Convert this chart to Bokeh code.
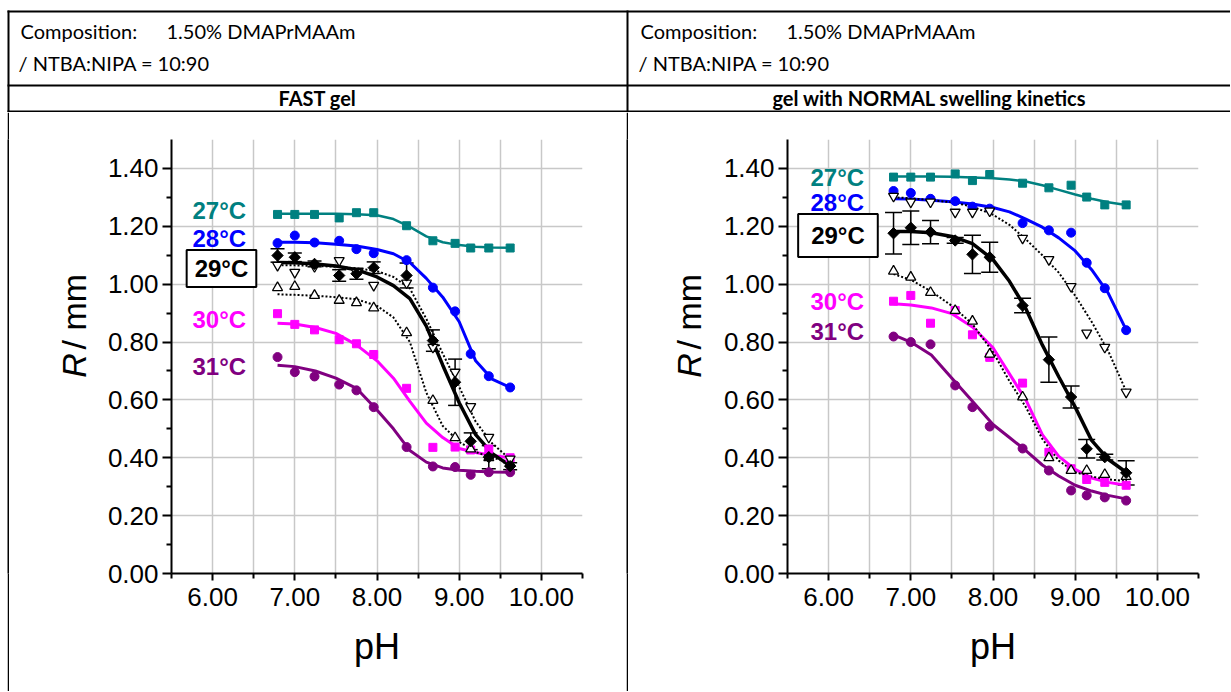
import math
from bokeh.plotting import figure
from bokeh.layouts import column, row
from bokeh.models import (Range1d, FixedTicker, NumeralTickFormatter, Label,
                          Whisker, TeeHead, ColumnDataSource)
from bokeh.core.properties import value
from bokeh.embed import file_html
from bokeh.resources import INLINE

# ---------------- data ----------------
ph = [6.79, 7.00, 7.24, 7.54, 7.75, 7.96, 8.36, 8.68, 8.95, 9.14, 9.36, 9.62]
fit_ph = [6.79, 7.0, 7.25, 7.5, 7.75, 8.0, 8.2, 8.4, 8.6, 8.8, 9.0, 9.2, 9.4, 9.62]

# FAST gel
fast_27 = [1.241, 1.241, 1.241, 1.229, 1.247, 1.247, 1.202, 1.150, 1.141, 1.125, 1.125, 1.125]
fast_28 = [1.142, 1.168, 1.144, 1.150, 1.121, 1.107, 1.083, 0.988, 0.906, 0.759, 0.682, 0.643]
fast_29 = [1.099, 1.093, 1.070, 1.030, 1.036, 1.057, 1.030, 0.805, 0.661, 0.457, 0.402, 0.371]
fast_29_err = [0.023, 0.015, 0.010, 0.020, 0.019, 0.020, 0.043, 0.037, 0.080, 0.029, 0.040, 0.012]
fast_down = [1.065, 1.041, 1.061, 1.082, 1.041, 0.996, 1.004, 0.782, 0.696, 0.577, 0.471, 0.396]
fast_up = [0.988, 0.992, 0.961, 0.944, 0.936, 0.918, 0.832, 0.598, 0.469, 0.430, 0.400, 0.380]
fast_30 = [0.898, 0.861, 0.842, 0.808, 0.794, 0.757, 0.640, 0.436, 0.437, 0.427, 0.430, 0.400]
fast_31 = [0.748, 0.696, 0.681, 0.653, 0.633, 0.575, 0.437, 0.370, 0.368, 0.341, 0.350, 0.350]

fast_fit_27 = [1.243, 1.243, 1.243, 1.243, 1.242, 1.238, 1.225, 1.198, 1.165, 1.145, 1.135, 1.129, 1.127, 1.126]
fast_fit_28 = [1.145, 1.145, 1.143, 1.138, 1.132, 1.120, 1.105, 1.075, 1.020, 0.955, 0.870, 0.735, 0.672, 0.643]
fast_fit_29 = [1.075, 1.074, 1.070, 1.063, 1.050, 1.025, 0.995, 0.950, 0.855, 0.720, 0.590, 0.480, 0.415, 0.372]
fast_fit_down = [1.065, 1.065, 1.063, 1.060, 1.055, 1.045, 1.025, 0.985, 0.880, 0.760, 0.645, 0.525, 0.450, 0.395]
fast_fit_up = [0.965, 0.963, 0.960, 0.955, 0.948, 0.925, 0.885, 0.800, 0.625, 0.510, 0.455, 0.420, 0.400, 0.385]
fast_fit_30 = [0.865, 0.862, 0.850, 0.830, 0.790, 0.735, 0.675, 0.595, 0.520, 0.470, 0.432, 0.418, 0.408, 0.400]
fast_fit_31 = [0.720, 0.715, 0.700, 0.675, 0.640, 0.565, 0.500, 0.425, 0.385, 0.365, 0.357, 0.353, 0.351, 0.350]

# gel with NORMAL swelling kinetics
norm_27 = [1.370, 1.370, 1.370, 1.381, 1.358, 1.379, 1.349, 1.333, 1.342, 1.301, 1.274, 1.274]
norm_28 = [1.322, 1.315, 1.295, 1.287, 1.268, 1.261, 1.211, 1.186, 1.178, 1.074, 0.986, 0.841]
norm_29 = [1.176, 1.195, 1.180, 1.151, 1.103, 1.093, 0.926, 0.739, 0.610, 0.431, 0.402, 0.348]
norm_29_err = [0.072, 0.058, 0.040, 0.010, 0.066, 0.052, 0.025, 0.078, 0.038, 0.032, 0.010, 0.042]
norm_down = [1.304, 1.284, 1.284, 1.249, 1.249, 1.253, 1.159, 1.085, 0.992, 0.831, 0.782, 0.627]
norm_up = [1.045, 1.024, 0.971, 0.909, 0.872, 0.758, 0.610, 0.400, 0.356, 0.356, 0.342, 0.335]
norm_30 = [0.941, 0.961, 0.865, 0.909, 0.825, 0.747, 0.658, 0.419, 0.362, 0.325, 0.315, 0.305]
norm_31 = [0.819, 0.800, 0.792, 0.650, 0.575, 0.508, 0.432, 0.356, 0.287, 0.270, 0.263, 0.252]

norm_fit_27 = [1.372, 1.372, 1.372, 1.371, 1.369, 1.366, 1.362, 1.355, 1.342, 1.326, 1.310, 1.295, 1.283, 1.274]
norm_fit_28 = [1.295, 1.294, 1.290, 1.285, 1.277, 1.265, 1.250, 1.225, 1.197, 1.160, 1.115, 1.050, 0.970, 0.842]
norm_fit_29 = [1.182, 1.182, 1.178, 1.165, 1.140, 1.085, 1.010, 0.915, 0.790, 0.680, 0.575, 0.460, 0.395, 0.350]
norm_fit_down = [1.300, 1.297, 1.290, 1.283, 1.268, 1.240, 1.205, 1.155, 1.100, 1.040, 0.960, 0.870, 0.770, 0.630]
norm_fit_up = [1.035, 1.015, 0.975, 0.925, 0.862, 0.765, 0.665, 0.575, 0.465, 0.390, 0.350, 0.335, 0.325, 0.320]
norm_fit_30 = [0.932, 0.928, 0.918, 0.898, 0.852, 0.780, 0.690, 0.600, 0.480, 0.405, 0.360, 0.330, 0.315, 0.305]
norm_fit_31 = [0.825, 0.800, 0.755, 0.675, 0.595, 0.515, 0.470, 0.425, 0.375, 0.337, 0.305, 0.285, 0.270, 0.258]

temp_labels = ["27°C", "28°C", "29°C", "30°C", "31°C"]
x_ticks = [6.0, 7.0, 8.0, 9.0, 10.0]
y_ticks = [0.0, 0.2, 0.4, 0.6, 0.8, 1.0, 1.2, 1.4]

TEAL, BLUE, MAG, PURP = "#008080", "#0000FF", "#FF00FF", "#800080"
FONT = "Liberation Sans"
HF = "Lato"
CH = 579  # chart row height
LBW = 85  # width of the y-label strip


def make_chart(width, b_left, b_right, s, lab_x, lab_ys, box_xy, box_pad, cap):
    p = figure(width=width, height=CH, x_range=Range1d(5.5, 10.5), y_range=Range1d(0, 1.5),
               min_border_left=b_left, min_border_right=b_right,
               min_border_top=27, min_border_bottom=118,
               toolbar_location=None, output_backend="svg",
               outline_line_color=None)
    for ax in (p.xaxis[0], p.yaxis[0]):
        ax.axis_line_width = 2
        ax.axis_line_color = "black"
        ax.major_tick_line_width = 2
        ax.minor_tick_line_width = 2
        ax.major_tick_line_color = "black"
        ax.minor_tick_line_color = "black"
        ax.major_tick_in = 0
        ax.minor_tick_in = 0
        ax.minor_tick_out = 5
        ax.major_label_text_font = FONT
        ax.major_label_text_font_size = "26px"
        ax.major_label_text_color = "black"
        ax.formatter = NumeralTickFormatter(format="0.00")
    p.xaxis.ticker = FixedTicker(ticks=x_ticks, minor_ticks=[t - 0.5 for t in x_ticks] + [10.5])
    p.yaxis.ticker = FixedTicker(ticks=y_ticks, minor_ticks=[round(t + 0.1, 2) for t in y_ticks[:-1]])
    p.xaxis.major_tick_out = 7
    p.yaxis.major_tick_out = 9
    p.xaxis.major_label_standoff = 7
    p.yaxis.major_label_standoff = 4
    p.xaxis.axis_label = "pH"
    p.xaxis.axis_label_text_font = FONT
    p.xaxis.axis_label_text_font_size = "36px"
    p.xaxis.axis_label_text_font_style = "normal"
    p.xaxis.axis_label_text_color = "black"
    p.xaxis.axis_label_standoff = 17

    p.xgrid.ticker = FixedTicker(ticks=[6.0 + 0.5 * i for i in range(9)])
    p.ygrid.ticker = FixedTicker(ticks=y_ticks[1:])
    p.grid.grid_line_color = "#c8c8c8"
    p.grid.grid_line_width = 1.5

    # fit curves
    p.line(fit_ph, s["fit27"], line_color=TEAL, line_width=2.5)
    p.line(fit_ph, s["fit28"], line_color=BLUE, line_width=3)
    p.line(fit_ph, s["fit30"], line_color=MAG, line_width=3)
    p.line(fit_ph, s["fit31"], line_color=PURP, line_width=3)
    p.line(fit_ph, s["fitup"], line_color="black", line_width=2, line_dash="2 2")
    p.line(fit_ph, s["fitdown"], line_color="black", line_width=2, line_dash="2 2")
    p.line(fit_ph, s["fit29"], line_color="black", line_width=3.5)

    # error bars of 29 °C
    src = ColumnDataSource(dict(x=ph,
                                upper=[v + e for v, e in zip(s["d29"], s["e29"])],
                                lower=[v - e for v, e in zip(s["d29"], s["e29"])]))
    p.add_layout(Whisker(source=src, base="x", upper="upper", lower="lower",
                         line_color="black", line_width=1.5,
                         upper_head=TeeHead(size=cap, line_color="black", line_width=1.5),
                         lower_head=TeeHead(size=cap, line_color="black", line_width=1.5)))

    # markers
    p.scatter(ph, s["d27"], marker="square", size=8, color=TEAL)
    p.scatter(ph, s["d28"], marker="circle", size=9, color=BLUE)
    p.scatter(ph, s["d30"], marker="square", size=8, color=MAG)
    p.scatter(ph, s["d31"], marker="circle", size=9, color=PURP)
    p.scatter(ph, s["up"], marker="triangle", size=10, fill_color="white",
              line_color="black", line_width=1.3)
    p.scatter(ph, s["down"], marker="inverted_triangle", size=10, fill_color="white",
              line_color="black", line_width=1.3)
    p.scatter(ph, s["d29"], marker="square", angle=math.pi / 4, size=8, color="black")

    # temperature labels
    cols = [TEAL, BLUE, None, MAG, PURP]
    for t, c, y in zip(temp_labels, cols, lab_ys):
        if c is None:
            continue
        p.add_layout(Label(x=lab_x, y=y, text=t, text_color=c, text_font=FONT,
                           text_font_style="bold", text_font_size="24px",
                           text_align="left", text_baseline="middle"))
    p.add_layout(Label(x=box_xy[0], y=box_xy[1], text=temp_labels[2], text_color="black",
                       text_font=FONT, text_font_style="bold", text_font_size="24px",
                       text_align="center", text_baseline="middle",
                       border_line_color="black", border_line_width=2,
                       background_fill_color="white", padding=box_pad))
    return p


def ylabel_strip(xc):
    # narrow figure holding the rotated "R / mm" axis title (R in italics)
    f = figure(width=LBW, height=CH, x_range=Range1d(0, LBW), y_range=Range1d(0, CH),
               min_border=0, toolbar_location=None, output_backend="svg",
               x_axis_location=None, y_axis_location=None, outline_line_color=None)
    f.grid.visible = False
    f.text(x=[xc], y=[261], text=["R"], angle=math.pi / 2, text_align="left",
           text_baseline="middle", text_font=value(FONT), text_font_size="34px",
           text_font_style="italic", text_color="black")
    f.text(x=[xc], y=[299], text=["/ mm"], angle=math.pi / 2, text_align="left",
           text_baseline="middle", text_font=value(FONT), text_font_size="34px",
           text_color="black")
    return f


def plain(width, color):
    f = figure(width=width, height=CH, min_border=0, toolbar_location=None, output_backend="svg",
               x_axis_location=None, y_axis_location=None, outline_line_color=None,
               background_fill_color=color, border_fill_color=color)
    f.grid.visible = False
    return f


fast = dict(d27=fast_27, d28=fast_28, d29=fast_29, e29=fast_29_err, down=fast_down, up=fast_up,
            d30=fast_30, d31=fast_31, fit27=fast_fit_27, fit28=fast_fit_28, fit29=fast_fit_29,
            fitdown=fast_fit_down, fitup=fast_fit_up, fit30=fast_fit_30, fit31=fast_fit_31)
norm = dict(d27=norm_27, d28=norm_28, d29=norm_29, e29=norm_29_err, down=norm_down, up=norm_up,
            d30=norm_30, d31=norm_31, fit27=norm_fit_27, fit28=norm_fit_28, fit29=norm_fit_29,
            fitdown=norm_fit_down, fitup=norm_fit_up, fit30=norm_fit_30, fit31=norm_fit_31)

left = make_chart(532, 77, 44, fast, 5.755, [1.253, 1.157, None, 0.879, 0.715],
                  (6.108, 1.054), (8, 5), 14)
right = make_chart(517, 74, 32, norm, 5.78, [1.370, 1.283, None, 0.941, 0.837],
                   (6.114, 1.168), (13, 8), 17)

# ---------------- header (table) ----------------
W = 1230
hdr = figure(width=W, height=112, x_range=Range1d(0, W), y_range=Range1d(112, 0),
             min_border=0, toolbar_location=None, output_backend="svg",
             x_axis_location=None, y_axis_location=None, outline_line_color=None)
hdr.grid.visible = False
hdr.segment(x0=[7, 7, 7, 8, 627], y0=[11, 85, 111, 10, 10],
            x1=[W, W, W, 8, 627], y1=[11, 85, 111, 112, 112],
            line_color="black", line_width=2)
for x0 in (20, 640):
    hdr.add_layout(Label(x=x0, y=30, text="Composition:", text_font=HF, text_font_size="20px",
                         text_baseline="middle", text_color="black"))
    hdr.add_layout(Label(x=x0 + 146, y=30, text="1.50% DMAPrMAAm", text_font=HF,
                         text_font_size="20px", text_baseline="middle", text_color="black"))
    hdr.add_layout(Label(x=x0 - 2, y=62, text="/ NTBA:NIPA = 10:90", text_font=HF,
                         text_font_size="20px", text_baseline="middle", text_color="black"))
hdr.add_layout(Label(x=317, y=97, text="FAST gel", text_font=HF, text_font_size="20px",
                     text_font_style="bold", text_align="center", text_baseline="middle",
                     text_color="black"))
hdr.add_layout(Label(x=929, y=97, text="gel with NORMAL swelling kinetics", text_font=HF,
                     text_font_size="20px", text_font_style="bold", text_align="center",
                     text_baseline="middle", text_color="black"))

chart_row = row(plain(7, "white"), plain(2, "black"), ylabel_strip(64), left,
                plain(2, "black"), ylabel_strip(60), right, spacing=0)
layout = column(hdr, chart_row, spacing=0)
open("out.html", "w").write(file_html(layout, INLINE))
